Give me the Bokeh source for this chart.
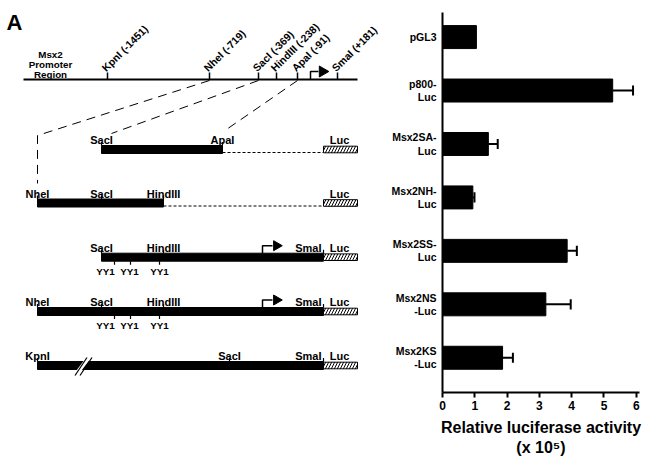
import math
from bokeh.plotting import figure
from bokeh.layouts import row
from bokeh.models import Range1d, FixedTicker
from bokeh.core.properties import value
from bokeh.embed import file_html
from bokeh.resources import INLINE

FONT = "Liberation Sans"

# ---------------- bar chart data ----------------
constructs = ["pGL3", "p800-\nLuc", "Msx2SA-\nLuc", "Msx2NH-\nLuc",
              "Msx2SS-\nLuc", "Msx2NS\n-Luc", "Msx2KS\n-Luc"]
activity = [1.05, 5.27, 1.42, 0.94, 3.86, 3.20, 1.86]
activity_upper = [None, 5.90, 1.71, 0.99, 4.16, 3.97, 2.18]
x_ticks = [0, 1, 2, 3, 4, 5, 6]
x_axis_title = "Relative luciferase activity\n(x 10\u2075)"

# ---------------- schematic data (schematic units) ----------------
map_sites = ["KpnI (-1451)", "NheI (-719)", "SacI (-369)", "HindIII (-238)", "ApaI (-91)", "SmaI (+181)"]
map_site_x = [107, 209, 258, 276, 297, 337]
map_span = [23, 357]
map_y = 79
map_tss_x = 310
region_label = "Msx2\nPromoter\nRegion"

construct_y = [149, 202.5, 256.7, 311, 365]
construct_start = [101, 37, 101, 37, 37]
construct_end = [222, 163, 323, 323, 323]
construct_site_names = [["SacI", "ApaI"], ["NheI", "SacI", "HindIII"],
                        ["SacI", "HindIII", "SmaI"], ["NheI", "SacI", "HindIII", "SmaI"],
                        ["KpnI", "SacI", "SmaI"]]
construct_site_x = [[101, 222], [37, 101, 163], [101, 163, 323], [37, 101, 163, 323], [37, 229, 323]]
construct_has_tss = [False, False, True, True, False]
construct_has_yy1 = [False, False, True, True, False]
construct_has_break = [False, False, False, False, True]
yy1_x = [114, 130, 159]
yy1_label_x = [105, 129, 159]
tss_x = 262
luc_span = [323, 357]
break_x = 83
# dashed projection lines: from map site to construct
proj_x = [[209, 37, 37], [258, 111], [297, 223]]
proj_y = [[80, 135, 183], [80, 133], [80, 131]]

H = 460
BOTTOM = 68
FRAME_H = H - BOTTOM  # frame spans page y 0..392

# ---------------- schematic figure ----------------
W1 = 388
ps = figure(width=W1, height=H, x_range=Range1d(0, W1), y_range=Range1d(-FRAME_H, 0),
            output_backend="svg", toolbar_location=None,
            min_border_left=0, min_border_right=0, min_border_top=0, min_border_bottom=BOTTOM)
ps.axis.visible = False
ps.grid.visible = False
ps.outline_line_color = None

def T(x, y, txt, size="11px", align="center", baseline="alphabetic", angle=0.0):
    ps.text(x=[x], y=[-y], text=[txt], text_font=value(FONT), text_font_style="bold",
            text_font_size=size, text_align=align, text_baseline=baseline, angle=angle,
            text_color="black")

HALF = 4.0  # half thickness of construct bars

# panel letter
T(6, 9, "A", size="22px", align="left", baseline="top")
# region label
ps.text(x=[50], y=[-64], text=[region_label], text_font=value(FONT), text_font_style="bold",
        text_font_size="9.8px", text_align="center", text_baseline="middle",
        text_line_height=0.9, text_color="black")

# top map line
ps.line(x=map_span, y=[-map_y, -map_y], line_width=1.8, color="black")
ps.segment(x0=map_site_x, y0=[-map_y] * 6, x1=map_site_x, y1=[-(map_y - 7)] * 6,
           line_width=1.5, color="black")
for nm, sx in zip(map_sites, map_site_x):
    T(sx - 4, 69, nm, size="10.5px", align="left", angle=math.pi / 4)
# map TSS arrow
ps.line(x=[map_tss_x, map_tss_x, map_tss_x + 8], y=[-map_y, -71, -71], line_width=1.5, color="black")
ps.scatter(x=[map_tss_x + 12], y=[-71], marker="triangle", angle=-math.pi / 2, size=11,
           color="black")

# projection dashes
for px, py in zip(proj_x, proj_y):
    ps.line(x=px, y=[-v for v in py], line_width=1, line_dash="9 6", color="black")

# constructs
for i, cy in enumerate(construct_y):
    x0, x1 = construct_start[i], construct_end[i]
    ps.quad(left=[x0], right=[x1], top=[-(cy - HALF)], bottom=[-(cy + HALF)], color="black")
    for nm, sx in zip(construct_site_names[i], construct_site_x[i]):
        ps.segment(x0=[sx], y0=[-(cy - HALF)], x1=[sx], y1=[-(cy - 7.5)], line_width=1.2, color="black")
        if nm == "SmaI":
            T(sx - 2, cy - 9.5, nm, align="right")
        else:
            T(sx, cy - 9.5, nm, align="center")
    if x1 < luc_span[0]:
        ps.line(x=[x1, luc_span[0]], y=[-(cy + 3), -(cy + 3)], line_width=1,
                line_dash="3 2", color="black")
    ps.quad(left=[luc_span[0]], right=[luc_span[1]], top=[-(cy - 3.3)], bottom=[-(cy + 3.3)],
            fill_color="white", line_color="black", line_width=1,
            hatch_pattern="/", hatch_color="black", hatch_scale=6, hatch_weight=1)
    T(339, cy - 9.5, "Luc", align="center")
    if construct_has_tss[i]:
        ps.line(x=[tss_x, tss_x, tss_x + 10], y=[-(cy - HALF), -(cy - 11.5), -(cy - 11.5)],
                line_width=1.5, color="black")
        ps.scatter(x=[tss_x + 14], y=[-(cy - 11.5)], marker="triangle", angle=-math.pi / 2,
                   size=10, color="black")
    if construct_has_yy1[i]:
        ps.segment(x0=yy1_x, y0=[-(cy + HALF)] * 3, x1=yy1_x, y1=[-(cy + 7.5)] * 3,
                   line_width=1.2, color="black")
        for lx in yy1_label_x:
            T(lx, cy + 8.5, "YY1", size="9.8px", align="center", baseline="top")
    if construct_has_break[i]:
        ps.segment(x0=[break_x - 6], y0=[-(cy + 7)], x1=[break_x + 6], y1=[-(cy - 9)],
                   line_width=4, color="white")
        ps.segment(x0=[break_x - 8.5, break_x - 3.5], y0=[-(cy + 10)] * 2,
                   x1=[break_x + 3.5, break_x + 8.5], y1=[-(cy - 8)] * 2,
                   line_width=1.2, color="black")

# ---------------- bar chart ----------------
LEFT = 54
FRAME_W = 197
RIGHT = 9
W2 = LEFT + FRAME_W + RIGHT
idx = list(range(len(constructs)))
y_top, y_bot = -0.46, 6.65          # axis extent (category units)
per_px = (y_bot - y_top) / 380.0
pb = figure(width=W2, height=H, x_range=Range1d(0, 6.1),
            y_range=Range1d(y_bot, y_top - 12 * per_px),
            output_backend="svg", toolbar_location=None,
            min_border_left=LEFT, min_border_right=RIGHT, min_border_top=0, min_border_bottom=BOTTOM)
pb.grid.visible = False
pb.outline_line_color = None

pb.hbar(y=idx, left=0, right=activity, height=0.43, color="black")
ei = [i for i in idx if activity_upper[i] is not None]
pb.segment(x0=[activity[i] for i in ei], y0=ei, x1=[activity_upper[i] for i in ei], y1=ei,
           line_width=2, color="black")
pb.segment(x0=[activity_upper[i] for i in ei], y0=[i - 0.095 for i in ei],
           x1=[activity_upper[i] for i in ei], y1=[i + 0.095 for i in ei],
           line_width=2, color="black")

xa = pb.xaxis[0]
xa.ticker = FixedTicker(ticks=x_ticks)
xa.major_tick_out = 5
xa.major_tick_in = 0
xa.minor_tick_line_color = None
xa.axis_line_width = 2
xa.axis_line_color = "black"
xa.major_tick_line_width = 2
xa.major_tick_line_color = "black"
xa.major_label_text_font = FONT
xa.major_label_text_font_style = "bold"
xa.major_label_text_font_size = "12px"
xa.major_label_text_color = "black"
xa.major_label_standoff = 3
xa.axis_label = x_axis_title
xa.axis_label_text_font = FONT
xa.axis_label_text_font_style = "bold"
xa.axis_label_text_font_size = "16px"
xa.axis_label_text_color = "black"
xa.axis_label_standoff = 6

ya = pb.yaxis[0]
ya.bounds = (y_top, y_bot)
ya.ticker = FixedTicker(ticks=idx)
ya.major_label_overrides = {i: t for i, t in zip(idx, constructs)}
ya.axis_line_width = 2
ya.axis_line_color = "black"
ya.major_tick_line_color = None
ya.major_tick_out = 0
ya.major_tick_in = 0
ya.minor_tick_line_color = None
ya.major_label_standoff = 6
ya.major_label_text_align = "center"
ya.major_label_text_font = FONT
ya.major_label_text_font_style = "bold"
ya.major_label_text_font_size = "10.5px"
ya.major_label_text_color = "black"
ya.major_label_text_line_height = 1.1

layout = row(ps, pb)
open("out.html", "w").write(file_html(layout, INLINE))
